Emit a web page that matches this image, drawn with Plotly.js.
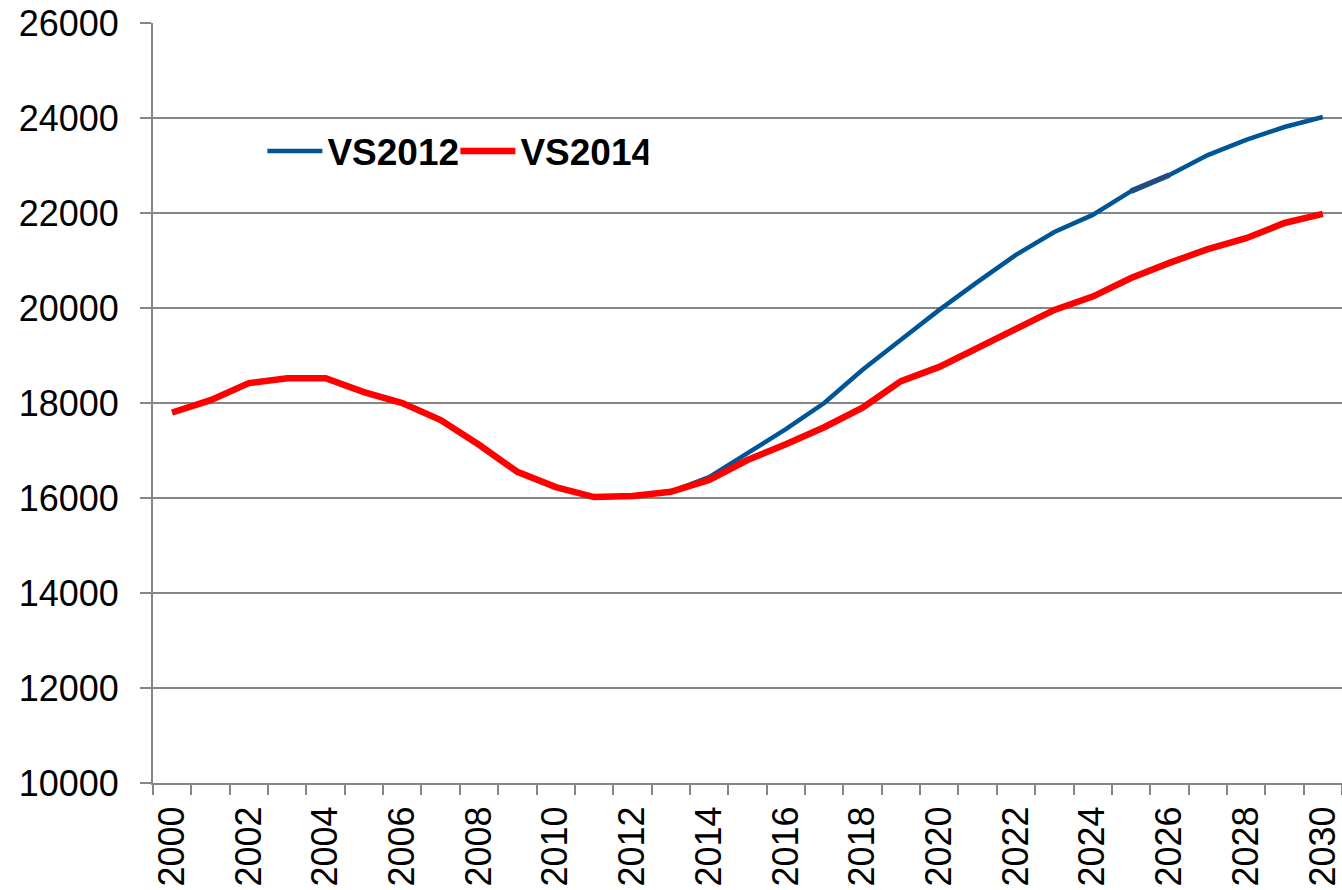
<!DOCTYPE html>
<html>
<head>
<meta charset="utf-8">
<script src="https://cdn.plot.ly/plotly-3.0.1.min.js"></script>
<style>
html,body{margin:0;padding:0;background:#fff;}
#chart{width:1342px;height:890px;}
</style>
</head>
<body>
<div id="chart"></div>
<script>
const years = [2000,2001,2002,2003,2004,2005,2006,2007,2008,2009,2010,2011,2012,2013,2014,2015,2016,2017,2018,2019,2020,2021,2022,2023,2024,2025,2026,2027,2028,2029,2030];
const vs2012 = [17800,18060,18420,18520,18520,18230,18000,17640,17120,16550,16230,16020,16040,16130,16440,16950,17450,18000,18700,19330,19960,20550,21120,21600,21960,22460,22800,23220,23540,23810,24020];
const vs2014 = [17800,18060,18420,18520,18520,18230,18000,17640,17120,16550,16230,16020,16040,16130,16380,16800,17130,17490,17900,18460,18760,19160,19560,19960,20240,20630,20950,21240,21470,21790,21980];
const seriesNames = ['VS2012','VS2014'];
const tickYears = [2000,2002,2004,2006,2008,2010,2012,2014,2016,2018,2020,2022,2024,2026,2028,2030];
const yTicks = [10000,12000,14000,16000,18000,20000,22000,24000,26000];

const traces = [
  {x: years, y: vs2012, name: seriesNames[0], type: 'scatter', mode: 'lines',
   line: {color: '#005596', width: 4.5}},
  {x: years.slice(25,27), y: vs2012.slice(25,27), name: seriesNames[0], showlegend: false, type: 'scatter', mode: 'lines',
   line: {color: '#244c82', width: 5.5}, hoverinfo: 'skip'},
  {x: years, y: vs2014, name: seriesNames[1], type: 'scatter', mode: 'lines',
   line: {color: '#ff0000', width: 6.5}}
];

const layout = {
  width: 1342, height: 890,
  margin: {l: 153, r: 0, t: 23, b: 107},
  paper_bgcolor: '#ffffff', plot_bgcolor: '#ffffff',
  font: {family: 'Liberation Sans, Arial, sans-serif', color: '#000000', size: 36},
  showlegend: true,
  legend: {
    orientation: 'h', x: 0.092, y: 0.831, xanchor: 'left', yanchor: 'middle',
    font: {family: 'Liberation Sans, Arial, sans-serif', size: 37, weight: 'bold', color: '#000'},
    itemwidth: 55, bgcolor: 'rgba(0,0,0,0)', tracegroupgap: 0, entrywidth: 123
  },
  xaxis: {
    range: [1999.5, 2030.5], tickmode: 'array', tickvals: tickYears, ticktext: tickYears.map(String),
    tickangle: -90, ticks: '', showgrid: false, zeroline: false,
    showline: true, linecolor: '#868686', linewidth: 2,
    tickfont: {size: 36, color: '#000'}, automargin: false, ticklabeloverflow: 'allow',
    ticklabelstandoff: 7,
    minor: {tick0: 1999.5, dtick: 1, ticks: 'outside', ticklen: 10, tickcolor: '#868686', tickwidth: 2, showgrid: false}
  },
  yaxis: {
    range: [10000, 26000], tickmode: 'array', tickvals: yTicks, ticktext: yTicks.map(String),
    ticks: 'outside', ticklen: 11, tickcolor: '#868686', tickwidth: 2,
    showgrid: true, gridcolor: '#868686', gridwidth: 1.5, zeroline: false,
    showline: true, linecolor: '#868686', linewidth: 2,
    tickfont: {size: 36, color: '#000'}, automargin: false, ticklabelstandoff: 14, ticklabeloverflow: 'allow'
  }
};

Plotly.newPlot('chart', traces, layout, {staticPlot: true, displayModeBar: false});
</script>
</body>
</html>
